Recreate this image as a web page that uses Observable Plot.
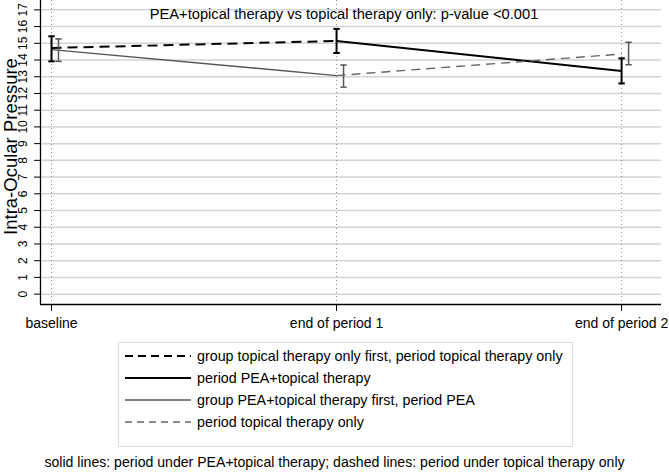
<!DOCTYPE html>
<html>
<head>
<meta charset="utf-8">
<script src="https://cdn.jsdelivr.net/npm/d3@7"></script>
<script src="https://cdn.jsdelivr.net/npm/@observablehq/plot@0.6"></script>
<style>
  html, body { margin: 0; padding: 0; background: #fff; }
  body { font-family: "Liberation Sans", Arial, sans-serif; }
  #wrap { position: relative; width: 669px; height: 473px; overflow: hidden; }
  #chart { position: absolute; left: 0; top: 0; }
  #legend { position: absolute; left: 118px; top: 342px; width: 455px; height: 105px; border: 1px solid #dcdcdc; box-sizing: border-box; }
  .row { position: absolute; left: 6px; height: 20px; display: flex; align-items: center; font-size: 14.3px; color: #000; white-space: nowrap; }
  .row svg { margin-right: 6px; }
  #caption { position: absolute; left: 0; width: 669px; top: 454px; text-align: center; font-size: 14.1px; color: #000; white-space: nowrap; }
</style>
</head>
<body>
<div id="wrap">
  <div id="chart"></div>
  <div id="legend"></div>
  <div id="caption"></div>
</div>
<script>
// ---- data ----
const categories = ["baseline", "end of period 1", "end of period 2"];
const xTicks = [0, 1, 2];
const yTicks = [0,1,2,3,4,5,6,7,8,9,10,11,12,13,14,15,16,17];

// group topical therapy only first (black)
const topFirstMean = [14.72, 15.14, 13.35];
const topFirstLow  = [13.92, 14.42, 12.60];
const topFirstHigh = [15.42, 15.86, 14.10];

// group PEA+topical therapy first (gray)
const peaFirstMean = [14.62, 13.07, 14.36];
const peaFirstLow  = [13.92, 12.38, 13.72];
const peaFirstHigh = [15.26, 13.70, 15.06];

const titleText = "PEA+topical therapy vs topical therapy only: p-value <0.001";
const yLabel = "Intra-Ocular Pressure";
const legendLabels = [
  "group topical therapy only first, period topical therapy only",
  "period PEA+topical therapy",
  "group PEA+topical therapy first, period PEA",
  "period topical therapy only"
];
const captionText = "solid lines: period under PEA+topical therapy; dashed lines: period under topical therapy only";

// scale configuration
const xDomain = [-0.0386, 2.14];
const yDomain = [-0.62, 17.56];

// ---- derived tables ----
const BLACK = "#000000", GRAYS = "#555555", GRAYD = "#666666";
const segs = [
  {x1: xTicks[0], y1: topFirstMean[0], x2: xTicks[1], y2: topFirstMean[1], stroke: BLACK, w: 2, dash: "10,6", ldash: "8,5"},
  {x1: xTicks[1], y1: topFirstMean[1], x2: xTicks[2], y2: topFirstMean[2], stroke: BLACK, w: 2, dash: null},
  {x1: xTicks[0], y1: peaFirstMean[0], x2: xTicks[1], y2: peaFirstMean[1], stroke: GRAYS, w: 1.4, dash: null},
  {x1: xTicks[1], y1: peaFirstMean[1], x2: xTicks[2], y2: peaFirstMean[2], stroke: GRAYD, w: 1.4, dash: "9,6", ldash: "7,5"}
];
const barsA = xTicks.map((x, i) => ({x, lo: topFirstLow[i], hi: topFirstHigh[i]}));
const barsB = xTicks.map((x, i) => ({x, lo: peaFirstLow[i], hi: peaFirstHigh[i]}));

const capSymbol = {
  draw(ctx, size) {
    const r = Math.sqrt(size / Math.PI);
    ctx.moveTo(-r, 0); ctx.lineTo(r, 0);
  }
};

function errorBars(data, color, width, dx) {
  return [
    Plot.ruleX(data, {x: "x", y1: "lo", y2: "hi", stroke: color, strokeWidth: width, dx}),
    Plot.dot(data, {x: "x", y: "hi", symbol: capSymbol, r: 3.2, stroke: color, strokeWidth: width, fill: "none", dx}),
    Plot.dot(data, {x: "x", y: "lo", symbol: capSymbol, r: 3.2, stroke: color, strokeWidth: width, fill: "none", dx})
  ];
}

const chart = Plot.plot({
  width: 669,
  height: 338,
  marginLeft: 40,
  marginRight: 8,
  marginTop: 0,
  marginBottom: 34,
  x: {domain: xDomain},
  y: {domain: yDomain},
  style: {fontFamily: "'Liberation Sans', Arial, sans-serif", background: "white", color: "black", overflow: "visible"},
  marks: [
    Plot.ruleY(yTicks, {stroke: "#d3d3d3", strokeWidth: 1.5}),
    Plot.ruleX(xTicks, {stroke: "#8a8a8a", strokeDasharray: "1,3"}),
    Plot.ruleX([xDomain[0]], {stroke: "black", strokeWidth: 1.3}),
    Plot.ruleY([yDomain[0]], {stroke: "black", strokeWidth: 1.3}),
    ...segs.map(s => Plot.link([s], {x1: "x1", y1: "y1", x2: "x2", y2: "y2", stroke: s.stroke, strokeWidth: s.w, strokeDasharray: s.dash})),
    ...errorBars(barsA, BLACK, 2, 0),
    ...errorBars(barsB, GRAYS, 1.5, 7),
    Plot.axisY({ticks: yTicks, tickSize: 6, tickFormat: () => "", label: null}),
    Plot.text(yTicks, {y: d => d, text: d => String(d), frameAnchor: "left", textAnchor: "middle", dx: -17, rotate: -90, fontSize: 12, fill: "black"}),
    Plot.axisX({ticks: xTicks, tickSize: 7, tickPadding: 7, tickFormat: i => categories[i], fontSize: 14, label: null}),
    Plot.text([titleText], {frameAnchor: "top", dy: 14, dx: -7, lineAnchor: "middle", fontSize: 14.7, fill: "black"}),
    Plot.text([yLabel], {frameAnchor: "left", textAnchor: "middle", dx: -29, dy: -6, rotate: -90, fontSize: 18.5, fill: "black"})
  ]
});
document.getElementById("chart").appendChild(chart);

// ---- legend ----
const legend = document.getElementById("legend");
legendLabels.forEach((lab, i) => {
  const s = segs[i];
  const row = document.createElement("div");
  row.className = "row";
  row.style.top = (3 + i * 22) + "px";
  row.innerHTML = `<svg width="66" height="10"><line x1="0" y1="5" x2="66" y2="5" stroke="${s.stroke}" stroke-width="${s.w}" ${s.ldash ? `stroke-dasharray="${s.ldash}"` : ""}/></svg><span>${lab}</span>`;
  legend.appendChild(row);
});
document.getElementById("caption").textContent = captionText;
</script>
</body>
</html>
